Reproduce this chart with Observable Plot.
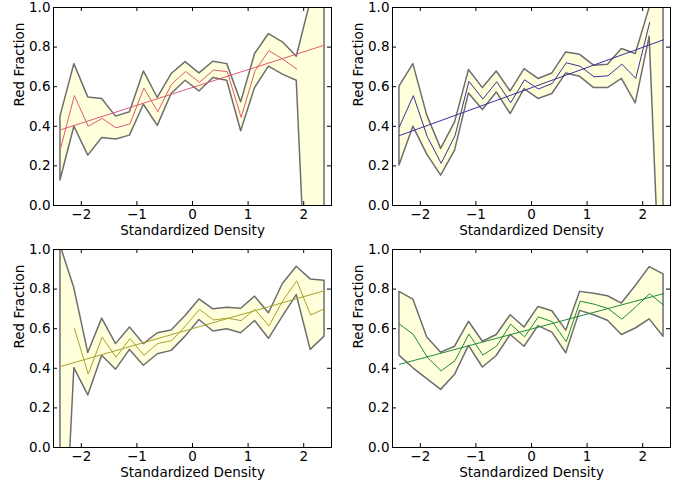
<!DOCTYPE html>
<html>
<head>
<meta charset="utf-8">
<script src="https://cdn.jsdelivr.net/npm/d3@7"></script>
<script src="https://cdn.jsdelivr.net/npm/@observablehq/plot@0.6"></script>
<style>
  html, body { margin: 0; padding: 0; background: white; }
  #chart { position: relative; width: 682px; height: 486px; background: white; }
  #chart > svg { position: absolute; }
</style>
</head>
<body>
<div id="chart"></div>
<script>
// ---- data ----
const xBins = [-2.375, -2.125, -1.875, -1.625, -1.375, -1.125, -0.875, -0.625, -0.375, -0.125,
               0.125, 0.375, 0.625, 0.875, 1.125, 1.375, 1.625, 1.875, 2.125, 2.375];
const fitX = [-2.375, 2.375];
const xTicks = [-2, -1, 0, 1, 2];
const yTicks = [0, 0.2, 0.4, 0.6, 0.8, 1.0];
const xLabel = "Standardized Density";
const yLabel = "Red Fraction";

// panel A (top-left, red)
const upperA = [0.449,0.714,0.546,0.538,0.449,0.471,0.677,0.543,0.664,0.724,0.667,0.726,0.714,0.521,0.765,0.866,0.824,0.751,1.03,1.5];
const lowerA = [0.126,0.398,0.252,0.341,0.333,0.353,0.509,0.402,0.563,0.630,0.576,0.644,0.630,0.375,0.593,0.701,0.661,0.630,-0.93,-0.5];
const centerA = [0.286,0.555,0.400,0.440,0.392,0.412,0.593,0.474,0.613,0.677,0.622,0.684,0.676,0.445,0.681,0.782,0.739,0.689,null,null];
const fitA = [0.382, 0.810];

// panel B (top-right, blue)
const upperB = [0.600,0.714,0.454,0.286,0.420,0.684,0.593,0.677,0.576,0.689,0.639,0.667,0.773,0.761,0.706,0.711,0.790,0.765,0.998,1.6];
const lowerB = [0.202,0.398,0.257,0.151,0.277,0.566,0.482,0.571,0.462,0.588,0.538,0.563,0.667,0.650,0.593,0.593,0.639,0.516,0.852,-0.85];
const centerB = [0.398,0.555,0.348,0.213,0.353,0.627,0.538,0.625,0.519,0.635,0.588,0.617,0.721,0.703,0.650,0.655,0.714,0.642,0.924,null];
const fitB = [0.353, 0.837];

// panel C (bottom-left, olive)
const upperC = [1.02,0.804,0.477,0.651,0.522,0.606,0.522,0.577,0.591,0.664,0.748,0.698,0.706,0.701,0.762,0.678,0.826,0.913,0.849,0.842];
const lowerC = [-1.0,0.401,0.263,0.463,0.393,0.493,0.413,0.471,0.488,0.560,0.644,0.586,0.597,0.577,0.639,0.549,0.661,0.770,0.493,0.560];
const centerC = [null,0.602,0.371,0.557,0.456,0.550,0.466,0.525,0.540,0.614,0.698,0.644,0.653,0.641,0.698,0.614,0.742,0.842,0.669,0.701];
const fitC = [0.409, 0.792];

// panel D (bottom-right, green)
const upperD = [0.786,0.747,0.556,0.479,0.509,0.635,0.534,0.568,0.668,0.606,0.710,0.688,0.590,0.786,0.777,0.764,0.727,0.816,0.911,0.874];
const lowerD = [0.464,0.400,0.345,0.291,0.367,0.513,0.404,0.462,0.568,0.509,0.613,0.580,0.476,0.690,0.668,0.640,0.568,0.601,0.647,0.559];
const centerD = [0.623,0.571,0.456,0.387,0.439,0.573,0.467,0.513,0.623,0.559,0.660,0.635,0.534,0.739,0.724,0.702,0.648,0.710,0.777,0.719];
const fitD = [0.420, 0.777];

const panels = [
  {upper: upperA, lower: lowerA, center: centerA, fit: fitA, color: "#dd5a7a", left: 0,     top: 0},
  {upper: upperB, lower: lowerB, center: centerB, fit: fitB, color: "#3a2f9e", left: 338.5, top: 0},
  {upper: upperC, lower: lowerC, center: centerC, fit: fitC, color: "#a8a22a", left: 0,     top: 242.3},
  {upper: upperD, lower: lowerD, center: centerD, fit: fitD, color: "#1f8a3c", left: 338.5, top: 242.3}
];

// ---- layout ----
const W = 341, H = 243;
const mL = 53, mR = 10, mT = 7, mB = 38;
const innerW = W - mL - mR, innerH = H - mT - mB;
const tickLen = 4;
const fs = 13.5;

const fmtX = d => d < 0 ? "\u2212" + Math.abs(d) : String(d);

const chart = document.getElementById("chart");

for (const p of panels) {
  const band = xBins.map((x, i) => ({x, lo: p.lower[i], hi: p.upper[i], c: p.center[i]}));
  const fit = fitX.map((x, i) => ({x, y: p.fit[i]}));
  const svg = Plot.plot({
    width: W, height: H,
    marginLeft: mL, marginRight: mR, marginTop: mT, marginBottom: mB,
    style: {fontFamily: "DejaVu Sans, sans-serif", fontSize: fs + "px", background: "white", color: "black", overflow: "visible"},
    x: {domain: [-2.5, 2.5], ticks: xTicks, tickFormat: fmtX, tickSize: 0, tickPadding: 4, label: null},
    y: {domain: [0, 1], ticks: yTicks, tickFormat: d => d.toFixed(1), tickSize: 0, tickPadding: 3, label: null},
    marks: [
      Plot.areaY(band, {x: "x", y1: "lo", y2: "hi", fill: "#ffffdc", stroke: "#6e6e6e", strokeWidth: 1.5, clip: true}),
      Plot.line(band, {x: "x", y: "c", stroke: p.color, strokeWidth: 1, clip: true}),
      Plot.line(fit, {x: "x", y: "y", stroke: p.color, strokeWidth: 1, clip: true}),
      Plot.ruleX(xTicks, {x: d => d, insetTop: innerH - tickLen, stroke: "black", strokeWidth: 1}),
      Plot.ruleX(xTicks, {x: d => d, insetBottom: innerH - tickLen, stroke: "black", strokeWidth: 1}),
      Plot.ruleY(yTicks, {y: d => d, insetRight: innerW - tickLen, stroke: "black", strokeWidth: 1}),
      Plot.ruleY(yTicks, {y: d => d, insetLeft: innerW - tickLen, stroke: "black", strokeWidth: 1}),
      Plot.frame({stroke: "black", strokeWidth: 1}),
      Plot.text([xLabel], {frameAnchor: "bottom", dy: 29, text: d => d, fill: "black", fontSize: fs}),
      Plot.text([yLabel], {frameAnchor: "left", dx: -34, rotate: -90, text: d => d, fill: "black", fontSize: fs})
    ]
  });
  svg.style.left = p.left + "px";
  svg.style.top = p.top + "px";
  chart.appendChild(svg);
}
</script>
</body>
</html>
